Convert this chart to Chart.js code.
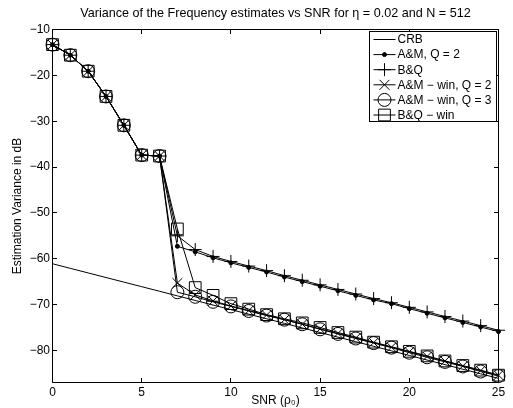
<!DOCTYPE html>
<html>
<head>
<meta charset="utf-8">
<title>Variance of the Frequency estimates vs SNR</title>
<script src="https://cdn.jsdelivr.net/npm/chart.js@4.4.0/dist/chart.umd.min.js"></script>
<style>
  html, body { margin: 0; padding: 0; background: #fff; }
  canvas { display: block; }
</style>
</head>
<body>
<canvas id="grafico" width="513" height="408"></canvas>
<script>
// Datos (dB)
const snr = [0, 1, 2, 3, 4, 5, 6, 7, 8, 9, 10, 11, 12, 13, 14, 15, 16, 17, 18, 19, 20, 21, 22, 23, 24, 25];
const crb = [-61.1, -62.1, -63.1, -64.1, -65.1, -66.1, -67.1, -68.1, -69.1, -70.1, -71.1, -72.1, -73.1,
  -74.1, -75.1, -76.1, -77.1, -78.1, -79.1, -80.1, -81.1, -82.1, -83.1, -84.1, -85.1, -86.1];
const amQ2 = [-13.3, -15.6, -19.1, -24.6, -30.9, -37.4, -37.6, -57.3, -58.5, -59.8, -60.9, -61.9, -62.9,
  -64.0, -65.0, -66.0, -67.0, -68.0, -69.0, -69.8, -70.9, -71.9, -72.9, -73.9, -74.9, -75.9];
const bq = [-13.3, -15.6, -19.1, -24.6, -30.9, -37.4, -37.6, -55.0, -58.0, -59.5, -60.6, -61.6, -62.6,
  -63.7, -64.7, -65.7, -66.7, -67.7, -68.7, -69.6, -70.6, -71.6, -72.6, -73.6, -74.6, -75.6];
const amWinQ2 = [-13.3, -15.6, -19.1, -24.6, -30.9, -37.4, -37.6, -65.3, -67.9, -69.2, -70.3, -71.3, -72.3,
  -73.3, -74.3, -75.3, -76.3, -77.3, -78.3, -79.3, -80.3, -81.3, -82.3, -83.4, -84.4, -85.4];
const amWinQ3 = [-13.3, -15.6, -19.1, -24.6, -30.9, -37.4, -37.6, -67.3, -68.3, -69.4, -70.4, -71.4, -72.4,
  -73.3, -74.3, -75.4, -76.4, -77.4, -78.4, -79.4, -80.5, -81.5, -82.5, -83.5, -84.6, -85.6];
const bqWin = [-13.3, -15.6, -19.1, -24.6, -30.9, -37.4, -37.6, -53.5, -66.3, -68.0, -69.8, -71.0, -72.2,
  -73.1, -74.0, -75.0, -76.1, -77.1, -78.2, -79.2, -80.2, -81.2, -82.3, -83.3, -84.3, -85.4];

const xTicks = [0, 5, 10, 15, 20, 25];
const yTicks = [-10, -20, -30, -40, -50, -60, -70, -80];
const etiquetas = ['CRB', 'A&M, Q = 2', 'B&Q', 'A&M \u2212 win, Q = 2', 'A&M \u2212 win, Q = 3', 'B&Q \u2212 win'];
const titulo = 'Variance of the Frequency estimates vs SNR for \u03b7 = 0.02 and N = 512';

const familia = '"Liberation Sans", Arial, Helvetica, sans-serif';
const fuente = (size) => ({ family: familia, size: size });

function serie(label, valores, estilo, radio, relleno) {
  return {
    label: label,
    data: snr.map((v, i) => ({ x: v, y: valores[i] })),
    borderColor: '#000',
    borderWidth: 1,
    pointStyle: estilo,
    pointRadius: radio,
    pointBorderColor: '#000',
    pointBorderWidth: 1,
    pointBackgroundColor: relleno,
    fill: false,
    tension: 0,
    clip: false
  };
}

const datasets = [
  serie(etiquetas[0], crb, false, 0, 'rgba(0,0,0,0)'),
  serie(etiquetas[1], amQ2, 'circle', 2, '#000'),
  serie(etiquetas[2], bq, 'cross', 6.5, 'rgba(0,0,0,0)'),
  serie(etiquetas[3], amWinQ2, 'crossRot', 7, 'rgba(0,0,0,0)'),
  serie(etiquetas[4], amWinQ3, 'circle', 6.5, 'rgba(0,0,0,0)'),
  serie(etiquetas[5], bqWin, 'rect', 8.3, 'rgba(0,0,0,0)')
];

// Marco estilo MATLAB: caja, marcas hacia dentro, titulo y leyenda con borde
const marco = {
  id: 'marco',
  afterDraw(chart) {
    const { ctx, chartArea: a, scales } = chart;
    const px = (v) => Math.round(v - 0.5) + 0.5;
    const L = px(a.left), R = px(a.right), T = px(a.top), B = px(a.bottom);
    ctx.save();
    ctx.strokeStyle = '#000';
    ctx.lineWidth = 1;
    ctx.beginPath();
    ctx.rect(L, T, R - L, B - T);
    xTicks.forEach(v => {
      const x = px(scales.x.getPixelForValue(v));
      ctx.moveTo(x, B); ctx.lineTo(x, B - 4.5);
      ctx.moveTo(x, T); ctx.lineTo(x, T + 4.5);
    });
    yTicks.forEach(v => {
      const y = px(scales.y.getPixelForValue(v));
      ctx.moveTo(L, y); ctx.lineTo(L + 4.5, y);
      ctx.moveTo(R, y); ctx.lineTo(R - 4.5, y);
    });
    ctx.stroke();

    ctx.fillStyle = '#000';
    ctx.font = '12.6px ' + familia;
    ctx.textAlign = 'center';
    ctx.textBaseline = 'middle';
    ctx.fillText(titulo, (a.left + a.right) / 2, 14);

    // leyenda
    const bx = 369.5, by = 31.5, bw = 127, bh = 90;
    ctx.fillStyle = '#fff';
    ctx.fillRect(bx, by, bw, bh);
    ctx.strokeRect(bx, by, bw, bh);
    ctx.font = '12px ' + familia;
    ctx.textAlign = 'left';
    chart.data.datasets.forEach((ds, i) => {
      const y = by + 8 + i * 15.1;
      ctx.strokeStyle = '#000';
      ctx.lineWidth = 1;
      ctx.beginPath();
      ctx.moveTo(bx + 4, y); ctx.lineTo(bx + 26, y);
      ctx.stroke();
      if (ds.pointStyle) {
        ctx.fillStyle = ds.pointBackgroundColor;
        Chart.helpers.drawPoint(ctx, {
          pointStyle: ds.pointStyle, radius: ds.pointRadius, rotation: 0, borderWidth: 1
        }, bx + 15, y);
      }
      ctx.fillStyle = '#000';
      ctx.fillText(ds.label, bx + 28, y + 0.5);
    });
    ctx.restore();
  }
};

new Chart(document.getElementById('grafico'), {
  type: 'line',
  data: { datasets: datasets },
  options: {
    responsive: false,
    animation: false,
    events: [],
    layout: { padding: { top: 29.5, right: 14.5, bottom: 0, left: 0 } },
    plugins: {
      legend: { display: false },
      tooltip: { enabled: false },
      title: { display: false }
    },
    scales: {
      x: {
        type: 'linear',
        min: 0,
        max: 25,
        afterBuildTicks: s => { s.ticks = xTicks.map(v => ({ value: v })); },
        afterFit: s => { s.height = 25.5; },
        grid: { display: false, drawTicks: false },
        border: { display: false },
        ticks: { color: '#000', font: fuente(12), padding: 2.5, maxRotation: 0 },
        title: {
          display: true, text: 'SNR (\u03c1\u2080)', color: '#000', font: fuente(12),
          padding: { top: 0, bottom: 0 }
        }
      },
      y: {
        type: 'linear',
        min: -87,
        max: -10,
        afterBuildTicks: s => { s.ticks = yTicks.map(v => ({ value: v })); },
        afterFit: s => { s.width = 52.5; },
        grid: { display: false, drawTicks: false },
        border: { display: false },
        ticks: {
          color: '#000', font: fuente(12), padding: 2.5,
          callback: v => (v < 0 ? '\u2212' + Math.abs(v) : String(v))
        },
        title: {
          display: true, text: 'Estimation Variance in dB', color: '#000', font: fuente(12),
          padding: { top: 10.5, bottom: 0 }
        }
      }
    }
  },
  plugins: [marco]
});
</script>
</body>
</html>
